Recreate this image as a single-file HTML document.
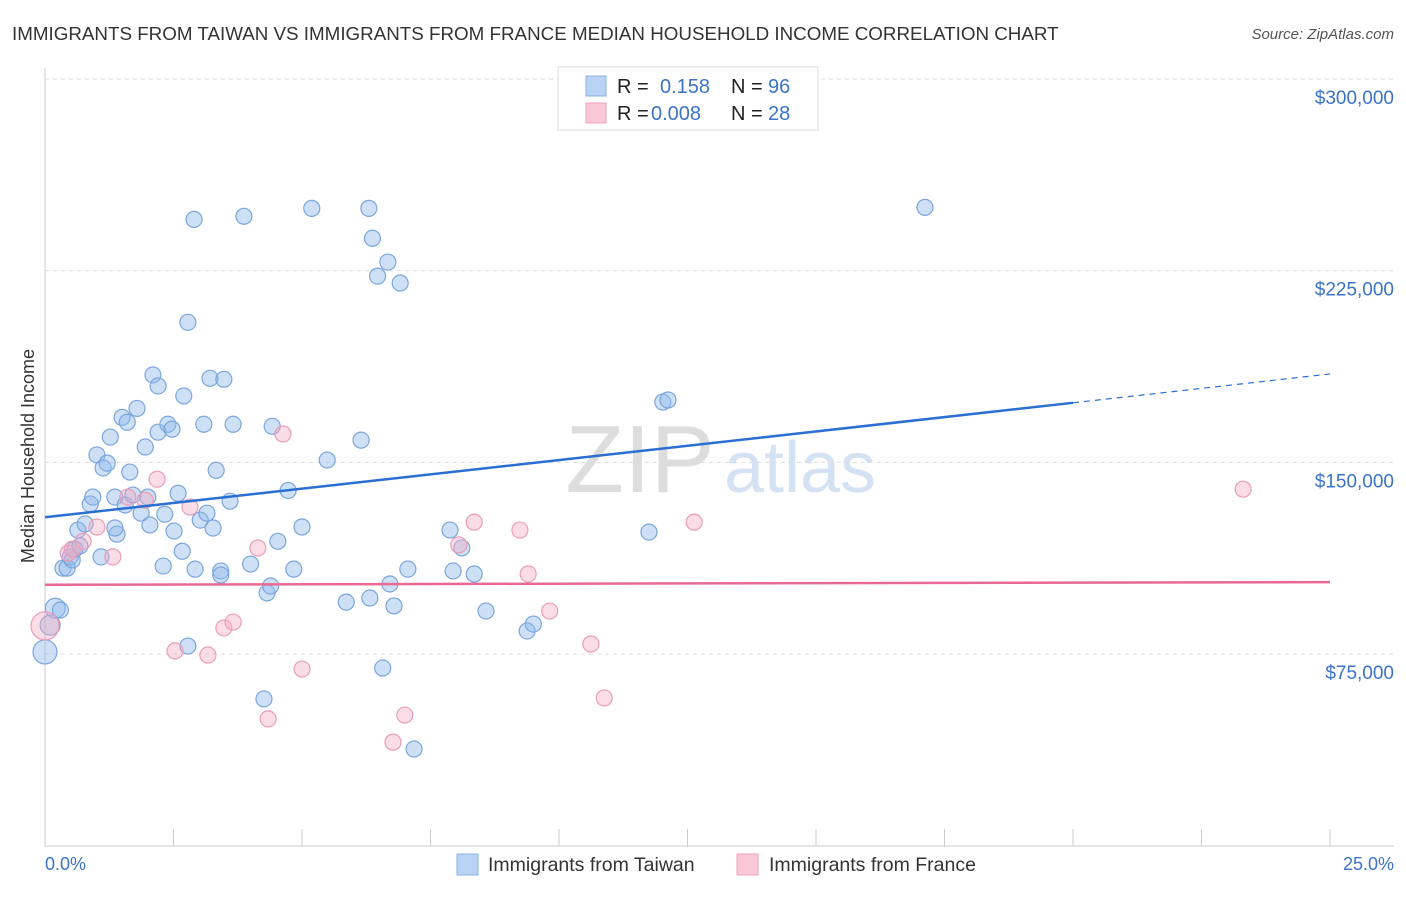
<!DOCTYPE html>
<html><head><meta charset="utf-8"><style>
body{margin:0;background:#fff;font-family:"Liberation Sans",sans-serif;}
svg text{font-family:"Liberation Sans",sans-serif;}
</style></head><body>
<svg id="c" width="1406" height="892">
<text x="12" y="40" font-size="18.8" fill="#333">IMMIGRANTS FROM TAIWAN VS IMMIGRANTS FROM FRANCE MEDIAN HOUSEHOLD INCOME CORRELATION CHART</text>
<text x="1394" y="39" font-size="15" fill="#555" font-style="italic" text-anchor="end">Source: ZipAtlas.com</text>
<text x="640" y="492" font-size="96" fill="#ddd" font-family="Liberation Serif" text-anchor="middle">ZIP</text>
<text x="800" y="492" font-size="72" fill="#d4e2f3" text-anchor="middle">atlas</text>
<g id="grid"></g><g id="axes"></g><g id="pts"></g><g id="lines"></g>
<text transform="translate(34,456) rotate(-90)" font-size="18" fill="#333" text-anchor="middle">Median Household Income</text>
<text x="45" y="870" font-size="18" fill="#3b73c8">0.0%</text>
<text x="1394" y="870" font-size="18" fill="#3b73c8" text-anchor="end">25.0%</text>
<g>
<rect x="558" y="67" width="260" height="63" fill="#fff" stroke="#ddd"/>
<rect x="586" y="76" width="20" height="20" fill="#b9d3f4" stroke="#8db3e6"/>
<rect x="586" y="103" width="20" height="20" fill="#f9c7d6" stroke="#eea3bb"/>
<text x="617" y="93" font-size="20" fill="#222">R = </text><text x="660" y="93" font-size="20" fill="#3b73c8">0.158</text>
<text x="731" y="93" font-size="20" fill="#222">N = </text><text x="768" y="93" font-size="20" fill="#3b73c8">96</text>
<text x="617" y="120" font-size="20" fill="#222">R = </text><text x="651" y="120" font-size="20" fill="#3b73c8">0.008</text>
<text x="731" y="120" font-size="20" fill="#222">N = </text><text x="768" y="120" font-size="20" fill="#3b73c8">28</text>
</g>
<g>
<rect x="457" y="854" width="21" height="21" fill="#b9d3f4" stroke="#8db3e6"/>
<text x="488" y="871" font-size="19.5" fill="#333">Immigrants from Taiwan</text>
<rect x="737" y="854" width="21" height="21" fill="#f9c7d6" stroke="#eea3bb"/>
<text x="769" y="871" font-size="19.5" fill="#333">Immigrants from France</text>
</g>
</svg>
<script>
const yTicks=[75,150,225,300];
const yTickLabels=["$75,000","$150,000","$225,000","$300,000"];
const xTicks=[0,2.5,5,7.5,10,12.5,15,17.5,20,22.5,25];
const taiwanX=[0,0.1,0.2,0.3,0.35,0.43,0.49,0.53,0.58,0.68,0.64,0.78,0.88,0.93,1.01,1.13,1.21,1.27,1.09,1.36,1.4,1.36,1.5,1.6,1.65,1.56,1.71,1.79,1.87,1.95,2.0,2.04,2.1,2.2,2.2,2.33,2.39,2.47,2.3,2.51,2.59,2.67,2.7,2.78,2.9,2.92,2.78,3.02,3.09,3.15,3.21,3.27,3.33,3.42,3.48,3.42,3.6,3.66,3.87,4.0,4.26,4.32,4.39,4.42,4.53,4.73,4.84,5.0,5.19,5.49,5.86,6.15,6.3,6.32,6.37,6.47,6.57,6.67,6.71,6.79,6.91,7.06,7.18,7.88,7.94,8.11,8.35,8.58,9.38,9.5,11.75,12.02,12.12,17.12];
const taiwanY=[75.8,86.3,92.9,92.2,108.6,108.6,113,111.8,116,117.3,123.5,125.9,133.7,136.4,152.9,147.8,149.7,159.9,113,136.4,121.9,124.3,167.6,165.7,146.2,133.3,137.2,171.1,130.1,156,136.4,125.5,184.2,179.9,161.8,129.7,164.9,163,109.4,123.1,137.9,115.2,176,204.8,245.1,108.2,78.1,127.4,164.9,130.1,182.9,124.3,146.9,107.5,182.5,105.9,134.8,164.9,246.3,110.2,57.4,98.9,101.6,164.1,119.1,139,108.2,124.7,249.4,150.9,95.3,158.7,249.4,96.9,237.7,222.9,69.5,228.4,102.4,93.8,220.2,108.2,37.8,123.5,107.5,116.5,106.3,91.8,84,86.7,122.7,173.6,174.4,249.8];
const franceX=[0,0.45,0.53,0.74,1.01,1.32,1.61,1.95,2.18,2.53,2.82,3.17,3.48,3.66,4.14,4.34,4.63,5.0,6.77,7.0,8.05,8.35,9.24,9.4,9.82,10.62,10.88,12.63,23.31];
const franceY=[86,114.5,116,119.1,124.7,113,136.4,135.2,143.4,76.2,132.5,74.6,85.2,87.5,116.5,49.6,161.1,69.1,40.5,51.1,117.7,126.6,123.5,106.3,91.8,78.9,57.8,126.6,139.5];
const taiwanTrend=[128.5,173.3,184.6];
const franceTrend=[102.1,103.1];
const NS="http://www.w3.org/2000/svg";
const X=v=>45+v*51.4, Y=v=>845.6-v*2.555;
function mk(t,a,p){const e=document.createElementNS(NS,t);for(const k in a)e.setAttribute(k,a[k]);p.appendChild(e);return e;}
const grid=document.getElementById('grid'),axes=document.getElementById('axes'),pts=document.getElementById('pts'),lines=document.getElementById('lines');
yTicks.forEach((t,i)=>{const l=mk('line',{x1:45,x2:1394,y1:Y(t),y2:Y(t),stroke:'#ddd','stroke-dasharray':'4,4'},grid);


const tx=mk('text',{x:1394,y:Y(t)+25,'font-size':19,fill:'#3b73c8','text-anchor':'end'},grid);tx.textContent=yTickLabels[i];

});
mk('line',{x1:45,x2:45,y1:68,y2:846,stroke:'#ccc'},axes);
mk('line',{x1:45,x2:1394,y1:846,y2:846,stroke:'#ccc'},axes);
xTicks.forEach(t=>{const l=mk('line',{x1:X(t),x2:X(t),y1:829,y2:846,stroke:'#ccc'},axes);

});
taiwanX.forEach((x,i)=>{const r=i<3?(i==0?12:10):8;const c=mk('circle',{cx:X(x),cy:Y(taiwanY[i]),r:r,fill:'rgba(147,186,234,0.45)',stroke:'#7ba6dd','stroke-width':1.2},pts);

});
franceX.forEach((x,i)=>{const r=i==0?14:8;const c=mk('circle',{cx:X(x),cy:Y(franceY[i]),r:r,fill:'rgba(244,170,195,0.4)',stroke:'#eb9db7','stroke-width':1.2},pts);

});
let l1=mk('line',{x1:X(0),y1:Y(taiwanTrend[0]),x2:X(20),y2:Y(taiwanTrend[1]),stroke:'#2a6fd1','stroke-width':2.5},lines);


let l2=mk('line',{x1:X(20),y1:Y(taiwanTrend[1]),x2:X(25),y2:Y(taiwanTrend[2]),stroke:'#2a6fd1','stroke-width':1.2,'stroke-dasharray':'6,5'},lines);


let l3=mk('line',{x1:X(0),y1:Y(franceTrend[0]),x2:X(25),y2:Y(franceTrend[1]),stroke:'#e86a92','stroke-width':2.5},lines);


</script>
</body></html>
